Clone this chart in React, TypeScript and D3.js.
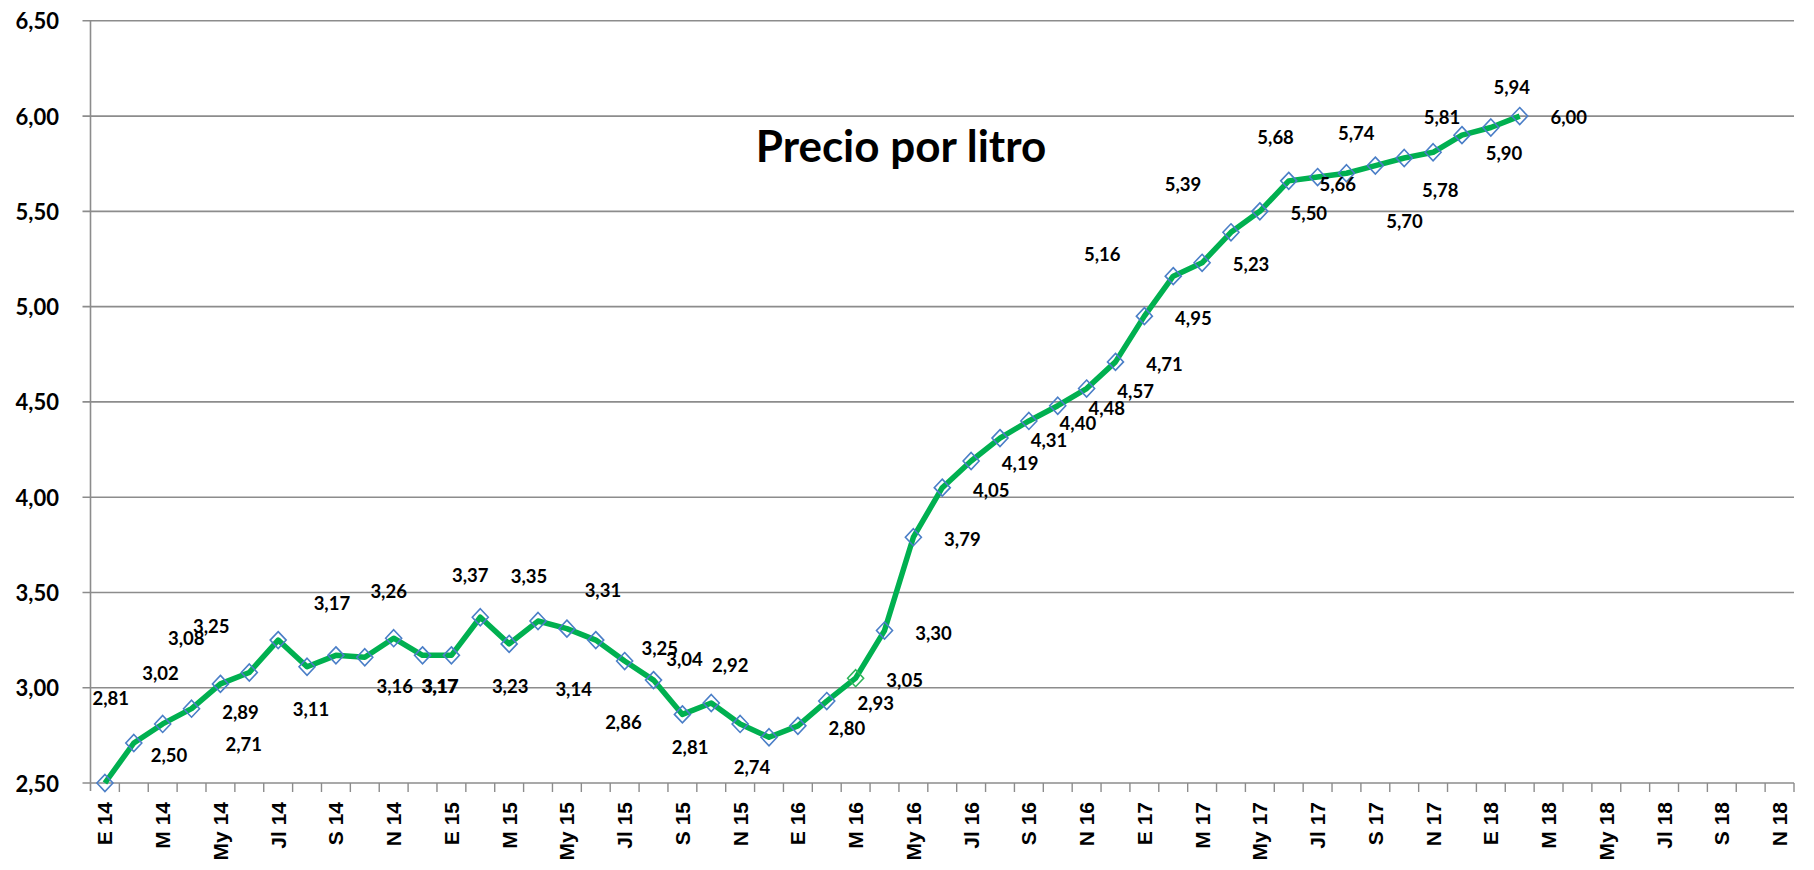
import * as d3 from "d3";

// meses (E 14 ... N 18), solo se rotulan los impares
const monthCodes = ["E", "F", "M", "A", "My", "Jn", "Jl", "Ag", "S", "O", "N", "D"];
const years = ["14", "15", "16", "17", "18"];
const months = years.flatMap((y) => monthCodes.map((m) => `${m} ${y}`)).slice(0, 59);

// precio por litro, E 14 a F 18
const prices = [
  2.5, 2.71, 2.81, 2.89, 3.02, 3.08, 3.25, 3.11, 3.17, 3.16,
  3.26, 3.17, 3.17, 3.37, 3.23, 3.35, 3.31, 3.25, 3.14, 3.04,
  2.86, 2.92, 2.81, 2.74, 2.8, 2.93, 3.05, 3.3, 3.79, 4.05,
  4.19, 4.31, 4.4, 4.48, 4.57, 4.71, 4.95, 5.16, 5.23, 5.39,
  5.5, 5.66, 5.68, 5.7, 5.74, 5.78, 5.81, 5.9, 5.94, 6.0,
];

// desplazamiento de cada etiqueta respecto a su punto (como quedaron en Excel)
const labelOffsets: [number, number][] = [
  [64, -28], [110, 1], [-52, -26], [49, 3], [-60, -11], [-63, -34], [-67, -14], [4, 42], [-4, -52], [30, 29],
  [-5, -47], [17, 31], [-11, 31], [-10, -42], [1, 42], [-9, -45], [36, -39], [64, 8], [-51, 28], [31, -21],
  [-59, 8], [19, -38], [-50, 23], [-17, 30], [49, 2], [49, 2], [49, 2], [49, 2], [49, 2], [49, 2],
  [49, 2], [49, 2], [49, 2], [49, 2], [49, 2], [49, 2], [49, 2], [-71, -22], [49, 1], [-48, -48],
  [49, 2], [49, 3], [-42, -40], [58, 48], [-19, -33], [36, 32], [9, -35], [42, 18], [21, -41], [49, 1],
];

const title = "Precio por litro";

const W = 1814;
const H = 870;
const left = 90.5;
const right = 1794;
const top = 20.8;
const bottom = 783;

const font = "Lato, 'Open Sans', sans-serif";
const axisFont = "'Liberation Sans', Arial, sans-serif";
const grey = "#8c8c8c";

const es = d3.formatLocale({ decimal: ",", thousands: ".", grouping: [3], currency: ["", "€"] });
const fmt = es.format(".2f");

export default function App() {
  const x = d3.scaleBand<string>().domain(months).range([left, right]).padding(0);
  const y = d3.scaleLinear().domain([2.5, 6.5]).range([bottom, top]);
  const bw = x.bandwidth();
  const cx = (i: number) => (x(months[i]) as number) + bw / 2;

  const line = d3
    .line<number>()
    .x((_, i) => cx(i))
    .y((d) => y(d));

  const yTicks = d3.range(2.5, 6.51, 0.5);

  return (
    <svg width={W} height={H} style={{ position: "absolute", left: 0, top: 0, background: "#fff" }}>
      {/* rejilla */}
      {yTicks.map((t) => (
        <g key={t}>
          <line x1={left - 8} x2={right} y1={y(t)} y2={y(t)} stroke={grey} strokeWidth={1.6} />
          <text
            x={59}
            y={y(t)}
            textAnchor="end"
            dominantBaseline="central"
            fontFamily={font}
            fontWeight={700}
            fontSize={22}
            fill="#000"
          >
            {fmt(t)}
          </text>
        </g>
      ))}
      {/* eje y */}
      <line x1={left} x2={left} y1={top} y2={bottom + 8} stroke={grey} strokeWidth={1.6} />
      {/* marcas eje x */}
      {months.map((m) => (
        <line
          key={m}
          x1={(x(m) as number) + bw}
          x2={(x(m) as number) + bw}
          y1={bottom}
          y2={bottom + 9}
          stroke={grey}
          strokeWidth={1.4}
        />
      ))}
      {months.map((m, i) =>
        i % 2 === 0 ? (
          <text
            key={m}
            transform={`translate(${cx(i)},${bottom + 19}) rotate(-90)`}
            textAnchor="end"
            dominantBaseline="central"
            fontFamily={axisFont}
            fontWeight={700}
            fontSize={21}
            fill="#000"
          >
            {m}
          </text>
        ) : null
      )}

      <text x={901} y={162} textAnchor="middle" fontFamily={font} fontWeight={700} fontSize={44} fill="#000">
        {title}
      </text>

      <path d={line(prices) ?? ""} fill="none" stroke="#00b050" strokeWidth={5.5} strokeLinejoin="round" />

      {prices.map((v, i) => (
        <path
          key={i}
          transform={`translate(${cx(i)},${y(v)})`}
          d="M0,-8.5L8,0L0,8.5L-8,0Z"
          fill="none"
          stroke={i === 26 ? "#2fb45a" : "#4a7ec7"}
          strokeWidth={1.6}
        />
      ))}

      {prices.map((v, i) => (
        <text
          key={i}
          x={cx(i) + labelOffsets[i][0]}
          y={y(v) + labelOffsets[i][1]}
          textAnchor="middle"
          dominantBaseline="central"
          fontFamily={font}
          fontWeight={700}
          fontSize={18.5}
          fill="#000"
        >
          {fmt(v)}
        </text>
      ))}
    </svg>
  );
}
